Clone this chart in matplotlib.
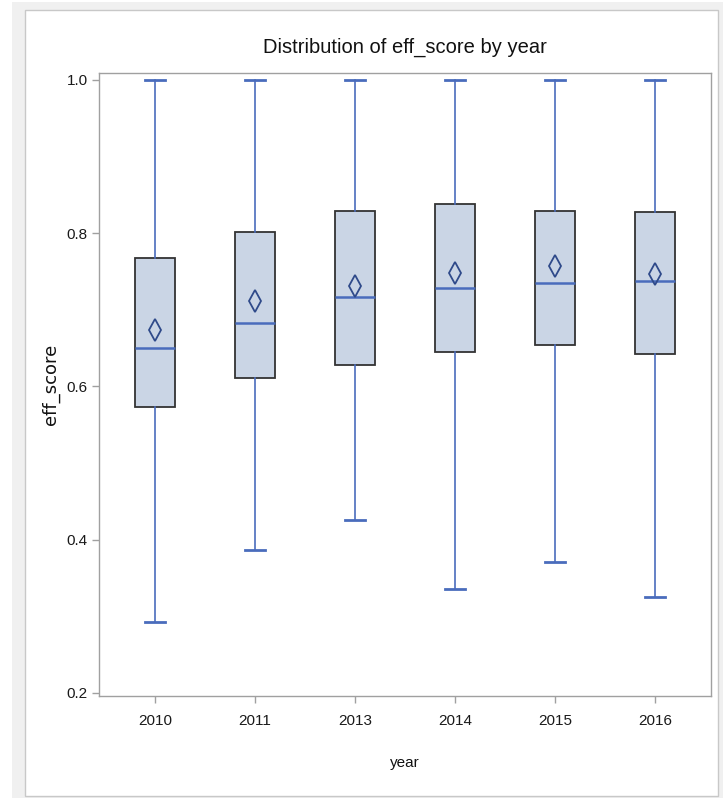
import matplotlib
matplotlib.use("Agg")
import matplotlib.pyplot as plt
from matplotlib.patches import Rectangle

# data
years = ['2010', '2011', '2013', '2014', '2015', '2016']
whislo = [0.292, 0.386, 0.425, 0.335, 0.371, 0.325]
q1 = [0.573, 0.611, 0.628, 0.645, 0.654, 0.642]
med = [0.650, 0.682, 0.717, 0.728, 0.735, 0.737]
q3 = [0.768, 0.801, 0.829, 0.838, 0.829, 0.827]
whishi = [1.0, 1.0, 1.0, 1.0, 1.0, 1.0]
mean = [0.674, 0.711, 0.731, 0.748, 0.757, 0.747]
yticks = [0.2, 0.4, 0.6, 0.8, 1.0]

# SAS uses a condensed font; Liberation Sans is the narrowest we have
narrow = ['Liberation Sans', 'DejaVu Sans']
box_fill = '#cad5e5'
line_blue = '#4a6cbc'
mark_blue = '#2f4a8a'

W, H = 723, 798
fig = plt.figure(figsize=(W / 100, H / 100), dpi=100, facecolor='white')

# grey outer frame + white panel like the SAS output window
fig.patches.append(Rectangle((12 / W, 0), 1 - 12 / W, 1 - 2 / H, transform=fig.transFigure,
                             facecolor='#f0f0f0', edgecolor='none', zorder=-2))
fig.patches.append(Rectangle((25 / W, 2 / H), (718 - 25) / W, (796 - 10) / H,
                             transform=fig.transFigure, facecolor='white',
                             edgecolor='#c8c8c8', linewidth=1, zorder=-1))

ax = fig.add_axes([99 / W, 102 / H, (711 - 99) / W, (696 - 73) / H])
ax.set_facecolor('white')

stats = []
for i in range(len(years)):
    stats.append({'label': years[i], 'whislo': whislo[i], 'q1': q1[i], 'med': med[i],
                  'q3': q3[i], 'whishi': whishi[i], 'mean': mean[i], 'fliers': []})

ax.bxp(stats, positions=range(len(years)), widths=0.4, patch_artist=True,
       showmeans=True, showfliers=False,
       boxprops=dict(facecolor=box_fill, edgecolor='#333333', linewidth=1.3),
       medianprops=dict(color=line_blue, linewidth=1.8),
       whiskerprops=dict(color=line_blue, linewidth=1.2),
       capprops=dict(color=line_blue, linewidth=2.0),
       capwidths=0.2,
       meanprops=dict(marker='d', markersize=11, markerfacecolor='none',
                      markeredgecolor=mark_blue, markeredgewidth=1.3))

ax.set_xlim(-0.56, 5.56)
ax.set_ylim(0.1957, 1.009)
ax.set_yticks(yticks)
ax.set_yticklabels([f'{v:.1f}' for v in yticks])
ax.set_xticks(range(len(years)))
ax.set_xticklabels(years)

for s in ax.spines.values():
    s.set_color('#a0a0a0')
    s.set_linewidth(1)
ax.tick_params(axis='both', direction='out', color='#a0a0a0', length=5, width=1)
ax.tick_params(axis='x', pad=8)
ax.tick_params(axis='y', pad=3)
for lab in ax.get_xticklabels() + ax.get_yticklabels():
    lab.set_family(narrow)
    lab.set_fontsize(11)
    lab.set_color('#1a1a1a')

# titles and axis labels placed on the figure
fig.text(405 / W, 1 - 47 / H, 'Distribution of eff_score by year', family=narrow,
         fontsize=14.5, ha='center', va='center', color='#111111')
fig.text(405 / W, 1 - 763 / H, 'year', family=narrow, fontsize=11,
         ha='center', va='center', color='#111111')
fig.text(51 / W, 1 - 384 / H, 'eff_score', family='DejaVu Sans', fontsize=13,
         rotation=90, ha='center', va='center', color='#111111')

fig.savefig('out.png', dpi=100, facecolor=fig.get_facecolor())
